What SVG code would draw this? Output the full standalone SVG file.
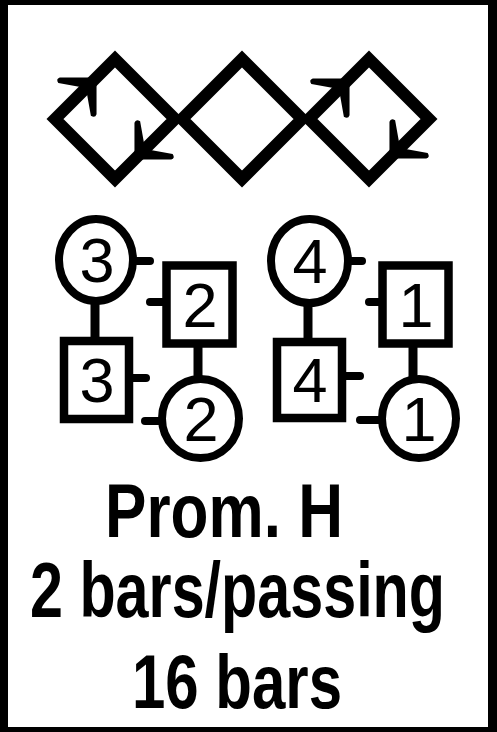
<svg xmlns="http://www.w3.org/2000/svg" width="497" height="732" viewBox="0 0 497 732">
<style>
.ln{fill:none;stroke:#000;stroke-width:12;stroke-linejoin:miter}
.ci{fill:#fff;stroke:#000;stroke-width:8}
.sq{fill:#fff;stroke:#000;stroke-width:8.5}
.tk{stroke:#000;stroke-width:8;stroke-linecap:round}
.vl{stroke:#000;stroke-width:9}
.dg{font-family:"Liberation Sans",Arial,sans-serif;font-size:63px;text-anchor:middle;fill:#000}
.cap{font-family:"Liberation Sans",Arial,sans-serif;font-weight:bold;fill:#000}
</style>
<defs>
<path id="ah" d="M5,0 L-21,-26 Q-25,-28 -26,-23 L-10,0 L-26,23 Q-25,28 -21,26 Z" fill="#000"/>
</defs>
<rect width="497" height="732" fill="#000"/>
<rect x="8" y="5" width="480" height="722" fill="#fff"/>
<g id="connectors">
<path class="ln" d="M115,59 L175,119 L115,179 L55,119 Z"/>
<path class="ln" d="M242,59 L302,119 L242,179 L182,119 Z"/>
<path class="ln" d="M369,59 L429,119 L369,179 L309,119 Z"/>
<use href="#ah" transform="translate(93,81) rotate(-45)"/>
<use href="#ah" transform="translate(138,156) rotate(135)"/>
<use href="#ah" transform="translate(346,82) rotate(-45)"/>
<use href="#ah" transform="translate(393,155) rotate(135)"/>
<line class="tk" x1="137" y1="261" x2="150" y2="261"/>
<line class="tk" x1="150" y1="302" x2="164" y2="302"/>
<line class="tk" x1="131" y1="378" x2="146" y2="378"/>
<line class="tk" x1="145" y1="421" x2="160" y2="421"/>
<line class="vl" x1="95" y1="300" x2="95" y2="342"/>
<line class="vl" x1="198" y1="344" x2="198" y2="380"/>
<line class="tk" x1="350" y1="261" x2="362" y2="261"/>
<line class="tk" x1="369" y1="302" x2="380" y2="302"/>
<line class="tk" x1="344" y1="376" x2="360" y2="376"/>
<line class="tk" x1="360" y1="420" x2="380" y2="420"/>
<line class="vl" x1="308" y1="302" x2="308" y2="342"/>
<line class="vl" x1="413" y1="344" x2="413" y2="380"/>
</g>
<g id="c3"><ellipse class="ci" cx="96" cy="260" rx="37" ry="41"/><text class="dg" x="97" y="282">3</text></g>
<g id="s2"><rect class="sq" x="166.5" y="265.5" width="66" height="78"/><text class="dg" x="200" y="327">2</text></g>
<g id="s3"><rect class="sq" x="64" y="341" width="65" height="78"/><text class="dg" x="97" y="402">3</text></g>
<g id="c2"><ellipse class="ci" cx="200.5" cy="418.5" rx="38.5" ry="39.5"/><text class="dg" x="201" y="441">2</text></g>
<g id="c4"><ellipse class="ci" cx="309.5" cy="261" rx="38.5" ry="42"/><text class="dg" x="310" y="283">4</text></g>
<g id="s1"><rect class="sq" x="382.5" y="265.5" width="66" height="78"/><text class="dg" x="416" y="327">1</text></g>
<g id="s4"><rect class="sq" x="277" y="342" width="65" height="76"/><text class="dg" x="310" y="402">4</text></g>
<g id="c1"><ellipse class="ci" cx="419" cy="418.5" rx="37" ry="39.5"/><text class="dg" x="419" y="441">1</text></g>
<g id="caption">
<text class="cap" x="105" y="537" font-size="76" textLength="238" lengthAdjust="spacingAndGlyphs">Prom. H</text>
<text class="cap" x="30" y="617" font-size="78" textLength="415" lengthAdjust="spacingAndGlyphs">2 bars/passing</text>
<text class="cap" x="132" y="708" font-size="76" textLength="210" lengthAdjust="spacingAndGlyphs">16 bars</text>
</g>
</svg>
